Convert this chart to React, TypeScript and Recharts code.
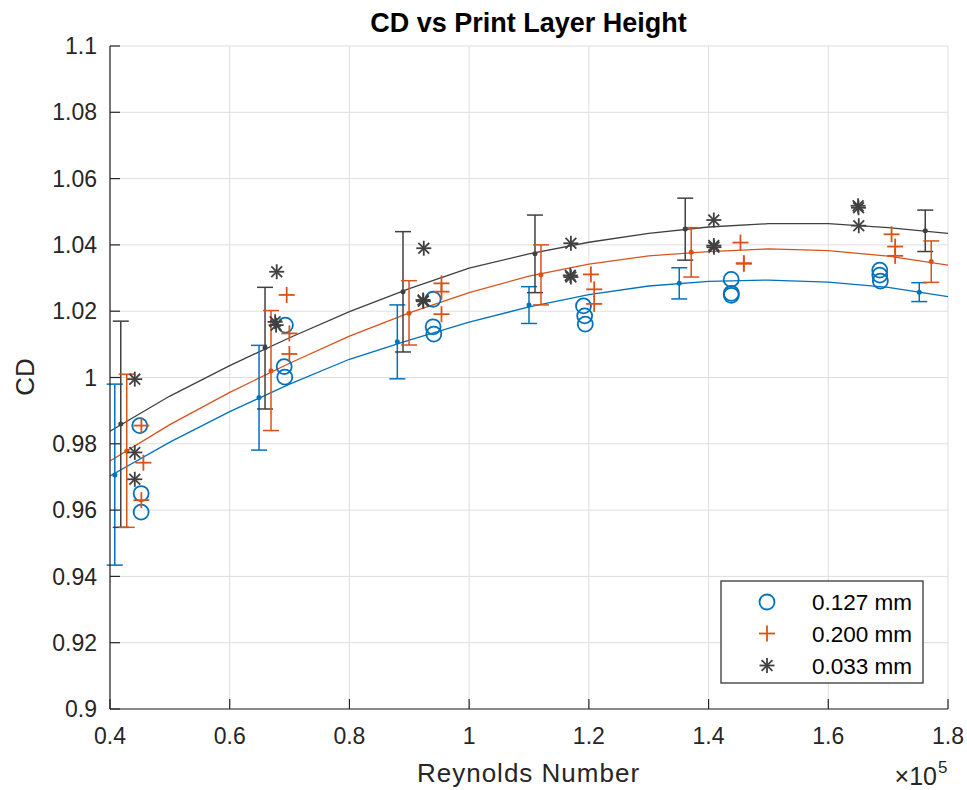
import React from 'react';
import { ComposedChart, Line, Scatter, XAxis, YAxis, CartesianGrid, ErrorBar } from 'recharts';

// ---- data ----
const curveX = [0.4, 0.5, 0.6, 0.7, 0.8, 0.9, 1.0, 1.1, 1.2, 1.3, 1.4, 1.5, 1.6, 1.7, 1.8];
const curve127 = [0.9703, 0.9805, 0.9897, 0.998, 1.0055, 1.0113, 1.0167, 1.0213, 1.025, 1.0276, 1.029, 1.0294, 1.0288, 1.0272, 1.0244];
const curve200 = [0.9748, 0.9858, 0.9955, 1.0043, 1.0125, 1.0195, 1.0256, 1.0306, 1.0342, 1.0367, 1.038, 1.0388, 1.0383, 1.0366, 1.0339];
const curve033 = [0.9838, 0.9944, 1.0036, 1.012, 1.0199, 1.0268, 1.033, 1.0373, 1.0408, 1.0435, 1.0454, 1.0464, 1.0464, 1.0452, 1.0435];

const raw127X = [0.4497, 0.452, 0.452, 0.693, 0.691, 0.692, 0.9398, 0.9398, 0.941, 1.191, 1.193, 1.194, 1.4378, 1.438, 1.438, 1.686, 1.686, 1.687];
const raw127Y = [0.9855, 0.965, 0.9594, 1.0158, 1.0033, 1.0001, 1.0236, 1.0153, 1.0131, 1.0216, 1.0186, 1.0161, 1.0296, 1.0254, 1.0248, 1.0324, 1.0309, 1.0291];

const raw200X = [0.4524, 0.4558, 0.4524, 0.6952, 0.6997, 0.6997, 0.9538, 0.9538, 0.9538, 1.2034, 1.2089, 1.2089, 1.4533, 1.4589, 1.4589, 1.7057, 1.7117, 1.7117];
const raw200Y = [0.9855, 0.9743, 0.963, 1.0249, 1.0133, 1.0071, 1.0284, 1.0259, 1.0191, 1.0311, 1.0266, 1.0222, 1.0407, 1.0345, 1.0343, 1.0432, 1.0395, 1.0367];

const raw033X = [0.4414, 0.4414, 0.4414, 0.6785, 0.6758, 0.6775, 0.9242, 0.923, 0.9235, 1.17, 1.169, 1.17, 1.4087, 1.4087, 1.409, 1.6498, 1.6505, 1.6509];
const raw033Y = [0.9995, 0.9774, 0.9693, 1.0319, 1.0168, 1.0158, 1.039, 1.0234, 1.023, 1.0405, 1.0308, 1.0303, 1.0475, 1.0398, 1.0393, 1.0518, 1.0512, 1.0458];

const eb127X = [0.408, 0.649, 0.88, 1.1, 1.351, 1.752];
const eb127Mean = [0.9706, 0.994, 1.0108, 1.0219, 1.0284, 1.0257];
const eb127Low = [0.9434, 0.9781, 0.9996, 1.0163, 1.0237, 1.0229];
const eb127High = [0.998, 1.0097, 1.0219, 1.0274, 1.0331, 1.0286];

const eb033X = [0.418, 0.659, 0.8895, 1.11, 1.361, 1.762];
const eb033Mean = [0.986, 1.009, 1.0259, 1.0373, 1.0448, 1.0443];
const eb033Low = [0.9548, 0.9905, 1.0077, 1.0256, 1.0354, 1.038];
const eb033High = [1.017, 1.0272, 1.044, 1.049, 1.0541, 1.0505];

const eb200X = [0.428, 0.669, 0.8996, 1.12, 1.371, 1.772];
const eb200Mean = [0.9778, 1.002, 1.0194, 1.031, 1.0378, 1.035];
const eb200Low = [0.9548, 0.984, 1.0098, 1.0219, 1.0303, 1.0287];
const eb200High = [1.001, 1.0202, 1.0292, 1.04, 1.0452, 1.0412];

const xTicks = [0.4, 0.6, 0.8, 1.0, 1.2, 1.4, 1.6, 1.8];
const yTicks = [0.9, 0.92, 0.94, 0.96, 0.98, 1.0, 1.02, 1.04, 1.06, 1.08, 1.1];
const legendLabels = ['0.127 mm', '0.200 mm', '0.033 mm'];

// ---- helpers ----
const BLUE = '#0072BD';
const ORANGE = '#D95319';
const GRAY = '#404040';
const FONT = '"Liberation Sans", Arial, Helvetica, sans-serif';

const pts = (xs: number[], ys: number[]) => xs.map((x, i) => ({ x, y: ys[i] }));
const ebPts = (xs: number[], m: number[], lo: number[], hi: number[]) =>
  xs.map((x, i) => ({ x, y: m[i], err: [m[i] - lo[i], hi[i] - m[i]] }));

const fmt = (v: number) => String(Number(v.toFixed(2)));

const CircleMark = (p: any) => (
  <circle cx={p.cx} cy={p.cy} r={7.5} fill="none" stroke={BLUE} strokeWidth={1.8} />
);
const PlusMark = (p: any) => (
  <g stroke={ORANGE} strokeWidth={1.8}>
    <line x1={p.cx - 8} y1={p.cy} x2={p.cx + 8} y2={p.cy} />
    <line x1={p.cx} y1={p.cy - 8} x2={p.cx} y2={p.cy + 8} />
  </g>
);
const StarMark = (p: any) => {
  const r = 7.5;
  const d = r * 0.72;
  return (
    <g stroke={GRAY} strokeWidth={1.8}>
      <line x1={p.cx - r} y1={p.cy} x2={p.cx + r} y2={p.cy} />
      <line x1={p.cx} y1={p.cy - r} x2={p.cx} y2={p.cy + r} />
      <line x1={p.cx - d} y1={p.cy - d} x2={p.cx + d} y2={p.cy + d} />
      <line x1={p.cx - d} y1={p.cy + d} x2={p.cx + d} y2={p.cy - d} />
    </g>
  );
};
const dotShape = (color: string) => (p: any) => <circle cx={p.cx} cy={p.cy} r={2.5} fill={color} />;

export default function App() {
  const axisColor = '#262626';
  const tickStyle = { fontSize: 23, fill: axisColor, fontFamily: FONT };
  return (
    <div style={{ position: 'absolute', left: 0, top: 0, width: 967, height: 790, background: '#fff' }}>
      <ComposedChart width={967} height={790} margin={{ top: 46, right: 19, left: 0, bottom: 0 }}>
        <CartesianGrid stroke="#dedede" strokeWidth={1} />
        <XAxis
          type="number"
          dataKey="x"
          domain={[0.4, 1.8]}
          ticks={xTicks}
          allowDataOverflow
          tickFormatter={fmt}
          height={81}
          tickSize={-10}
          tickMargin={29}
          tick={tickStyle}
          stroke={axisColor}
          strokeWidth={1.2}
          interval={0}
        />
        <YAxis
          type="number"
          dataKey="y"
          domain={[0.9, 1.1]}
          ticks={yTicks}
          allowDataOverflow
          tickFormatter={fmt}
          width={110}
          tickSize={-10}
          tickMargin={23}
          tick={tickStyle}
          stroke={axisColor}
          strokeWidth={1.2}
          interval={0}
        />
        <Line data={pts(curveX, curve127)} dataKey="y" stroke={BLUE} strokeWidth={1.3} dot={false} isAnimationActive={false} />
        <Line data={pts(curveX, curve200)} dataKey="y" stroke={ORANGE} strokeWidth={1.3} dot={false} isAnimationActive={false} />
        <Line data={pts(curveX, curve033)} dataKey="y" stroke={GRAY} strokeWidth={1.3} dot={false} isAnimationActive={false} />

        <Scatter data={ebPts(eb127X, eb127Mean, eb127Low, eb127High)} dataKey="y" shape={dotShape(BLUE)} isAnimationActive={false}>
          <ErrorBar dataKey="err" direction="y" width={8} stroke={BLUE} strokeWidth={1.5} isAnimationActive={false} />
        </Scatter>
        <Scatter data={ebPts(eb033X, eb033Mean, eb033Low, eb033High)} dataKey="y" shape={dotShape(GRAY)} isAnimationActive={false}>
          <ErrorBar dataKey="err" direction="y" width={8} stroke={GRAY} strokeWidth={1.5} isAnimationActive={false} />
        </Scatter>
        <Scatter data={ebPts(eb200X, eb200Mean, eb200Low, eb200High)} dataKey="y" shape={dotShape(ORANGE)} isAnimationActive={false}>
          <ErrorBar dataKey="err" direction="y" width={8} stroke={ORANGE} strokeWidth={1.5} isAnimationActive={false} />
        </Scatter>

        <Scatter data={pts(raw127X, raw127Y)} dataKey="y" shape={CircleMark} isAnimationActive={false} />
        <Scatter data={pts(raw200X, raw200Y)} dataKey="y" shape={PlusMark} isAnimationActive={false} />
        <Scatter data={pts(raw033X, raw033Y)} dataKey="y" shape={StarMark} isAnimationActive={false} />
      </ComposedChart>

      <svg width={967} height={790} style={{ position: 'absolute', left: 0, top: 0, pointerEvents: 'none' }}>
        <text x={528.5} y={32} textAnchor="middle" fontFamily={FONT} fontWeight="bold" fontSize={27} fill="#000">
          CD vs Print Layer Height
        </text>
        <text x={528.5} y={782} textAnchor="middle" fontFamily={FONT} fontSize={26} letterSpacing={1} fill={axisColor}>
          Reynolds Number
        </text>
        <text x={34} y={377} textAnchor="middle" fontFamily={FONT} fontSize={26} fill={axisColor} transform="rotate(-90 34 377)">
          CD
        </text>
        <text x={937} y={785} textAnchor="end" fontFamily={FONT} fontSize={25} fill={axisColor}>
          ×10
        </text>
        <text x={938} y={773} fontFamily={FONT} fontSize={17} fill={axisColor}>
          5
        </text>

        <rect x={721} y={581} width={202} height={102} fill="#fff" stroke={axisColor} strokeWidth={1.2} />
        <CircleMark cx={767} cy={602} />
        <PlusMark cx={767} cy={633.5} />
        <StarMark cx={767} cy={665.5} />
        {legendLabels.map((t, i) => (
          <text key={t} x={812} y={610 + i * 32} fontFamily={FONT} fontSize={22.5} fill="#000">
            {t}
          </text>
        ))}
      </svg>
    </div>
  );
}
